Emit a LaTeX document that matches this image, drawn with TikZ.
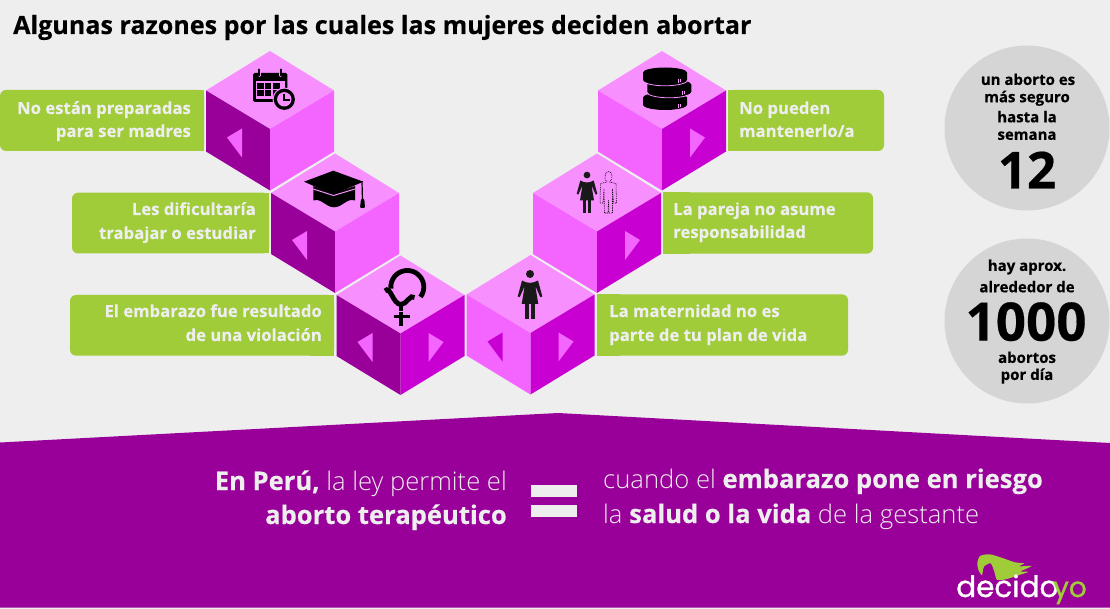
\documentclass[tikz,border=0pt]{standalone}
\usepackage{fontspec}
\setmainfont{Open Sans}[BoldFont={Open Sans Bold},BoldFeatures={FakeBold=0.35}]
\newfontfamily\lightf{Open Sans Light}
\newfontfamily\logof{Poppins}[FakeBold=0.9]
\definecolor{bgc}{HTML}{EEEEEE}
\definecolor{purp}{HTML}{990099}
\definecolor{topc}{HTML}{F78FFF}
\definecolor{lightc}{HTML}{F464FF}
\definecolor{darkc}{HTML}{C800D2}
\definecolor{greenc}{HTML}{A0CC3A}
\definecolor{greyc}{HTML}{D5D5D5}
\newcommand{\cubeface}[7]{%
  \begin{scope}[shift={(#1,#2)}]
    \fill[topc] (0,0)--(64,39.5)--(0,78)--(-64,39.5)--cycle;
    \fill[#3] (-64,39.5)--(0,78)--(0,139.5)--(-64,100.5)--cycle;
    \fill[#4] (64,39.5)--(0,78)--(0,139.5)--(64,100.5)--cycle;
    \ifx#5n\else\fill[#5] (-28,77.5)--(-28,106.5)--(-43,86.5)--cycle;\fi
    \ifx#6n\else\fill[#6] (28,77.5)--(28,106.5)--(43,86.5)--cycle;\fi
    #7
  \end{scope}}
\newcommand{\womanshape}{%
  \fill[black!90] (0,4) circle (4);
  \fill[black!90] (-8,10.5) to[out=-30,in=-150] (8,10.5) -- (12.3,26.5) -- (10.3,27.2) -- (5.3,16) -- (8.3,34) -- (-8.3,34) -- (-5.3,16) -- (-10.3,27.2) -- (-12.3,26.5) -- cycle;
  \fill[black!90] (-5,34) rectangle (-.7,48.7);
  \fill[black!90] (.7,34) rectangle (5,48.7);}
\tikzset{
  boxtext/.style={text=bgc,font=\bfseries\fontsize{16.7}{16.7}\selectfont,inner sep=0pt},
  circtext/.style={text=black,font=\bfseries\fontsize{15}{15}\selectfont,inner sep=0pt,anchor=center},
  bigtext/.style={text=black,font=\bfseries\fontsize{51}{51}\selectfont,inner sep=0pt,anchor=center},
  banner/.style={text=bgc,font=\fontsize{25.6}{25.6}\selectfont,inner sep=0pt},
  gbox/.style={fill=greenc,rounded corners=6pt},
}
\begin{document}
\begin{tikzpicture}[x=1pt,y=-1pt]
\useasboundingbox (0,0) rectangle (1110,609);
\fill[bgc] (0,0) rectangle (1110,609);
% banner
\fill[purp] (0,442.5)--(558,413)--(1110,443)--(1110,607.5)--(0,607.5)--cycle;
% green boxes
\fill[gbox] (204,90) -- (0,90) -- (0,151) -- (204,151) -- cycle;
\fill[greenc] (204,90) rectangle (190,151);
\fill[gbox] (269,192.7) -- (72,192.7) -- (72,253.5) -- (269,253.5) -- cycle;
\fill[greenc] (269,192.7) rectangle (250,253.5);
\fill[gbox] (334,295) -- (70,295) -- (70,355.7) -- (334,355.7) -- cycle;
\fill[greenc] (334,295) rectangle (310,355.7);
\fill[gbox] (597,294.3) -- (848,294.3) -- (848,355.7) -- (597,355.7) -- cycle;
\fill[greenc] (597,294.3) rectangle (620,355.7);
\fill[gbox] (663,192.3) -- (873,192.3) -- (873,253.7) -- (663,253.7) -- cycle;
\fill[greenc] (663,192.3) rectangle (690,253.7);
\fill[gbox] (728,90) -- (884,90) -- (884,151) -- (728,151) -- cycle;
\fill[greenc] (728,90) rectangle (750,151);
% cubes
\cubeface{270}{51}{purp}{lightc}{lightc}{n}{}
\cubeface{335}{153.5}{purp}{lightc}{lightc}{n}{}
\cubeface{400.5}{255.5}{purp}{darkc}{lightc}{lightc}{}
\cubeface{530.5}{255}{lightc}{darkc}{darkc}{lightc}{}
\cubeface{597}{153.5}{lightc}{darkc}{n}{lightc}{}
\cubeface{662}{51}{lightc}{darkc}{n}{lightc}{}
% calendar
\fill[black,rounded corners=1.5pt] (253,73) rectangle (287.3,102);
\fill[topc] (256,80.7) rectangle (285,98.7);
\foreach \cx in {257.3,265,273.3}{\foreach \cy in {83.3,90}{\fill[black] (\cx,\cy) rectangle ++(6.3,6.2);}}
\foreach \cx in {259.3,280.7}{\draw[topc,line width=3.4pt,line cap=round] (\cx,69.5)--(\cx,75.5);\draw[black,line width=2pt,line cap=round] (\cx,69.5)--(\cx,75.5);}
\fill[topc] (284.3,99.3) circle (11.8);
\fill[black] (284.3,99.3) circle (10.6);
\fill[topc] (284.3,99.3) circle (7.2);
\draw[black,line width=2pt] (284.3,93.6)--(284.3,100.5)--(290,100.5);
% mortarboard
\fill[black] (313.3,186)--(333.5,193.5)--(355,186)--(355,200.5) to[out=160,in=0] (334,207.3) to[out=180,in=20] (313.3,200.5)--cycle;
\draw[topc,line width=1pt] (313.3,189)--(333.5,195.5)--(355,189);
\fill[black] (304,181.7)--(333.3,170.7)--(363.3,181.7)--(333.3,194.5)--cycle;
\draw[black,line width=1.2pt] (362,181.5)--(362.5,201);
\fill[black,rounded corners=1pt] (361,199)--(364.3,199)--(365,208)--(360,208)--cycle;
% venus
\draw[black,line width=4.8pt] (390.9,288.7) arc[start angle=174,end angle=397,radius=16.5];
\draw[black,line width=4.8pt] (385,291) to[out=50,in=180] (401,304.5) to[out=0,in=135] (414.5,297.5);
\draw[black,line width=3.2pt] (401,305)--(401,326);
\draw[black,line width=3.4pt] (393.8,316.5)--(409.8,316.5);
\draw[topc,line width=.8pt] (398,311.5)--(404,311.5);
% woman C4
\begin{scope}[shift={(530,270)}]\womanshape\end{scope}
% woman C5 + man
\begin{scope}[shift={(587,171.7)},scale=.84]\womanshape\end{scope}
\draw[black,line width=.55pt,dash pattern=on .9pt off .9pt] (608.5,171.5) to[out=0,in=90] (612,176) to[out=-90,in=30] (609.5,182) -- (616,183.5) -- (616.5,203) -- (613.5,203) -- (612.5,189) -- (612.5,213) -- (609,213) -- (608.5,200) -- (608,213) -- (604.5,213) -- (604,189) -- (603,203) -- (600,203) -- (600.5,183.5) -- (607,182) to[out=150,in=-90] (605,176) to[out=90,in=180] (608.5,171.5);
% coins
\foreach \cx/\cy in {665/97.5,669.3/84.5,665/72.5}{
  \fill[black] (\cx-22,\cy) arc[start angle=180,end angle=360,x radius=22,y radius=5] -- ++(0,7.5) arc[start angle=0,end angle=180,x radius=22,y radius=5] -- cycle;
  \draw[topc,line width=.8pt] (\cx-23,\cy+7.3) arc[start angle=180,end angle=0,x radius=23,y radius=6];
  \draw[topc,line width=.8pt] (\cx+13,\cy+7) -- ++(0,3.5) (\cx+15.5,\cy+6.5) -- ++(0,3.5);
}
% circles
\fill[greyc] (1027,128) circle (82.5);
\fill[greyc] (1027,321) circle (82.5);
% equals
\fill[bgc] (531,485) rectangle (577,496.7);
\fill[bgc] (531,505) rectangle (577,517);
% logo
\begin{scope}[shift={(900,530)},x=.3333pt,y=-.3333pt]
\fill[greenc] plot[smooth cycle,tension=.45] coordinates {(232,100)(240,78)(270,73)(310,85)(345,97)(372,100)(358,109)(395,108)(362,124)(385,126)(345,139)(325,146)(292,150)(283,125)(272,100)(252,110)(246,135)(236,122)};
\end{scope}
% text
\node[anchor=base west,inner sep=0pt,font=\bfseries\fontsize{25.1}{25.1}\selectfont] (title) at (13,34) {Algunas razones por las cuales las mujeres deciden abortar};
\node[boxtext,anchor=base east] (l1a) at (191,114) {No están preparadas};
\node[boxtext,anchor=base east] (l1b) at (191,137) {para ser madres};
\node[boxtext,anchor=base east] (l2a) at (256,215) {Les dificultaría};
\node[boxtext,anchor=base east] (l2b) at (256,239) {trabajar o estudiar};
\node[boxtext,anchor=base east] (l3a) at (322,317) {El embarazo fue resultado};
\node[boxtext,anchor=base east] (l3b) at (322,341) {de una violación};
\node[boxtext,anchor=base west] (r4a) at (609,317) {La maternidad no es};
\node[boxtext,anchor=base west] (r4b) at (609,341) {parte de tu plan de vida};
\node[boxtext,anchor=base west] (r5a) at (673,215) {La pareja no asume};
\node[boxtext,anchor=base west] (r5b) at (673,238) {responsabilidad};
\node[boxtext,anchor=base west] (r6a) at (739,114) {No pueden};
\node[boxtext,anchor=base west] (r6b) at (739,137) {mantenerlo/a};
\node[circtext] (c1a) at (1028,79.3) {un aborto es};
\node[circtext] (c1b) at (1027,98.3) {más seguro};
\node[circtext] (c1c) at (1027,116.7) {hasta la};
\node[circtext] (c1d) at (1027,135.7) {semana};
\node[bigtext] (c1n) at (1027,170) {12};
\node[circtext] (c2a) at (1027,267) {hay aprox.};
\node[circtext] (c2b) at (1027,286.7) {alrededor de};
\node[bigtext,font=\bfseries\fontsize{53}{53}\selectfont] (c2n) at (1026,321.7) {1000};
\node[circtext] (c2c) at (1027,357.3) {abortos};
\node[circtext] (c2d) at (1027,376) {por día};
\node[banner,anchor=base east] (b1) at (507,490) {\textbf{En Perú,} {\lightf la ley permite el}};
\node[banner,anchor=base east] (b2) at (507,524) {\textbf{aborto terapéutico}};
\node[banner,anchor=base west] (b3) at (603,488) {{\lightf cuando el} \textbf{embarazo pone en riesgo}};
\node[banner,anchor=base west] (b4) at (603,523) {{\lightf la} \textbf{salud o la vida} {\lightf de la gestante}};
\node[anchor=base west,inner sep=0pt,font=\logof\fontsize{29.5}{29.5}\selectfont,text=white] (logo1) at (956,597) {decido};
\node[anchor=base east,inner sep=0pt,font=\logof\fontsize{28}{28}\selectfont,text=greenc] (logo2) at (1087,597) {yo};
\end{tikzpicture}
\end{document}
